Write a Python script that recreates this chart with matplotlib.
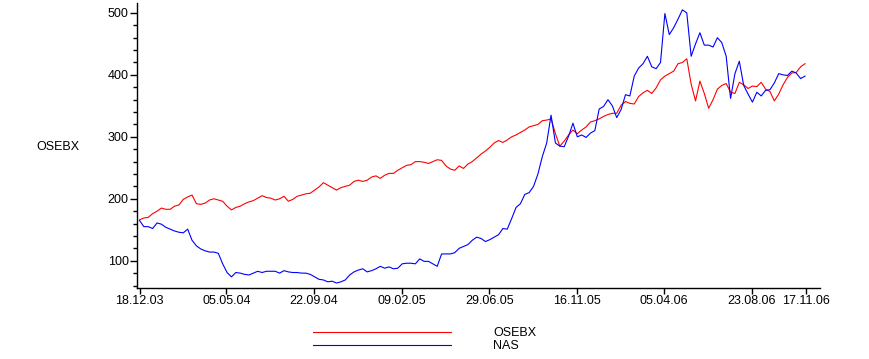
import matplotlib
matplotlib.use("Agg")
import matplotlib.pyplot as plt
import matplotlib.dates as mdates
import pandas as pd

# weekly closes
osebx = [166, 169, 170, 176, 180, 185, 183, 183, 188, 190,
         199, 203, 206, 192, 191, 193, 198, 200, 198, 196,
         188, 182, 186, 188, 192, 195, 197, 201, 205, 202,
         201, 198, 200, 204, 196, 199, 204, 206, 208, 209,
         214, 219, 226, 222, 218, 214, 218, 220, 222, 228,
         230, 228, 230, 235, 237, 233, 238, 241, 241, 246,
         250, 254, 255, 260, 260, 259, 257, 260, 263, 262,
         253, 248, 246, 253, 249, 256, 260, 266, 272, 277,
         283, 290, 294, 291, 295, 300, 303, 307, 311, 316,
         318, 320, 326, 327, 329, 305, 285, 293, 303, 311,
         305, 311, 316, 324, 326, 329, 333, 336, 338, 338,
         351, 357, 354, 353, 365, 371, 375, 370, 379, 392,
         398, 402, 406, 418, 420, 426, 385, 358, 390, 370,
         346, 360, 377, 383, 386, 372, 370, 388, 384, 378,
         382, 381, 388, 377, 373, 358, 369, 384, 396, 403,
         404, 413, 418]

nas = [165, 155, 155, 152, 161, 159, 154, 151, 148, 146,
       145, 151, 133, 124, 119, 116, 114, 114, 112, 95,
       81, 74, 81, 80, 78, 77, 80, 83, 81, 83,
       83, 83, 80, 84, 82, 81, 81, 80, 80, 78,
       74, 70, 69, 66, 67, 64, 66, 69, 77, 82,
       85, 87, 82, 84, 87, 91, 88, 90, 87, 88,
       95, 96, 96, 95, 103, 99, 99, 95, 91, 111,
       111, 111, 113, 120, 123, 126, 133, 138, 136, 131,
       134, 138, 142, 152, 151, 168, 186, 192, 207, 210,
       220, 240, 268, 290, 335, 290, 285, 284, 301, 322,
       300, 303, 299, 306, 310, 345, 349, 360, 350, 331,
       344, 368, 366, 398, 411, 418, 430, 413, 410, 420,
       499, 465, 476, 490, 505, 500, 430, 450, 468, 448,
       448, 445, 460, 452, 430, 362, 402, 422, 383, 369,
       356, 372, 366, 375, 376, 387, 402, 400, 399, 406,
       403, 394, 398]

tick_dates = ["2003-12-18", "2004-05-05", "2004-09-22", "2005-02-09",
              "2005-06-29", "2005-11-16", "2006-04-05", "2006-08-23",
              "2006-11-17"]

dates = pd.date_range("2003-12-18", periods=len(osebx), freq="7D")

plt.rcParams["font.family"] = ["Liberation Sans", "DejaVu Sans"]
plt.rcParams["font.size"] = 9

fig = plt.figure(figsize=(8.69, 3.59), dpi=100)
ax = fig.add_axes([137 / 869, 1 - 288 / 359, 683 / 869, 285 / 359])

ax.plot(dates, osebx, color="#ff0000", lw=0.8, label="OSEBX")
ax.plot(dates, nas, color="#0000ff", lw=0.8, label="NAS")

ax.set_xlim(pd.Timestamp("2003-12-14"), pd.Timestamp("2006-12-10"))
ax.set_ylim(56, 516)

ax.set_xticks(pd.to_datetime(tick_dates))
ax.xaxis.set_major_formatter(mdates.DateFormatter("%d.%m.%y"))
ax.set_yticks([100, 200, 300, 400, 500])
ax.set_yticks(range(60, 516, 20), minor=True)

for s in ["top", "right"]:
    ax.spines[s].set_visible(False)
for s in ["left", "bottom"]:
    ax.spines[s].set_linewidth(1.0)

ax.tick_params(axis="y", which="major", length=5, width=1, pad=1)
ax.tick_params(axis="y", which="minor", length=3, width=1)
ax.tick_params(axis="x", which="major", length=4, width=1, pad=1)

fig.text(58 / 869, 1 - 147 / 359, "OSEBX", ha="center", va="center")

fig.legend(loc="upper left", bbox_to_anchor=(313 / 869, 1 - 327 / 359),
           frameon=False, handlelength=11, handletextpad=3.4,
           labelspacing=0.1, borderpad=0, borderaxespad=0)

fig.savefig("out.png", dpi=100)
